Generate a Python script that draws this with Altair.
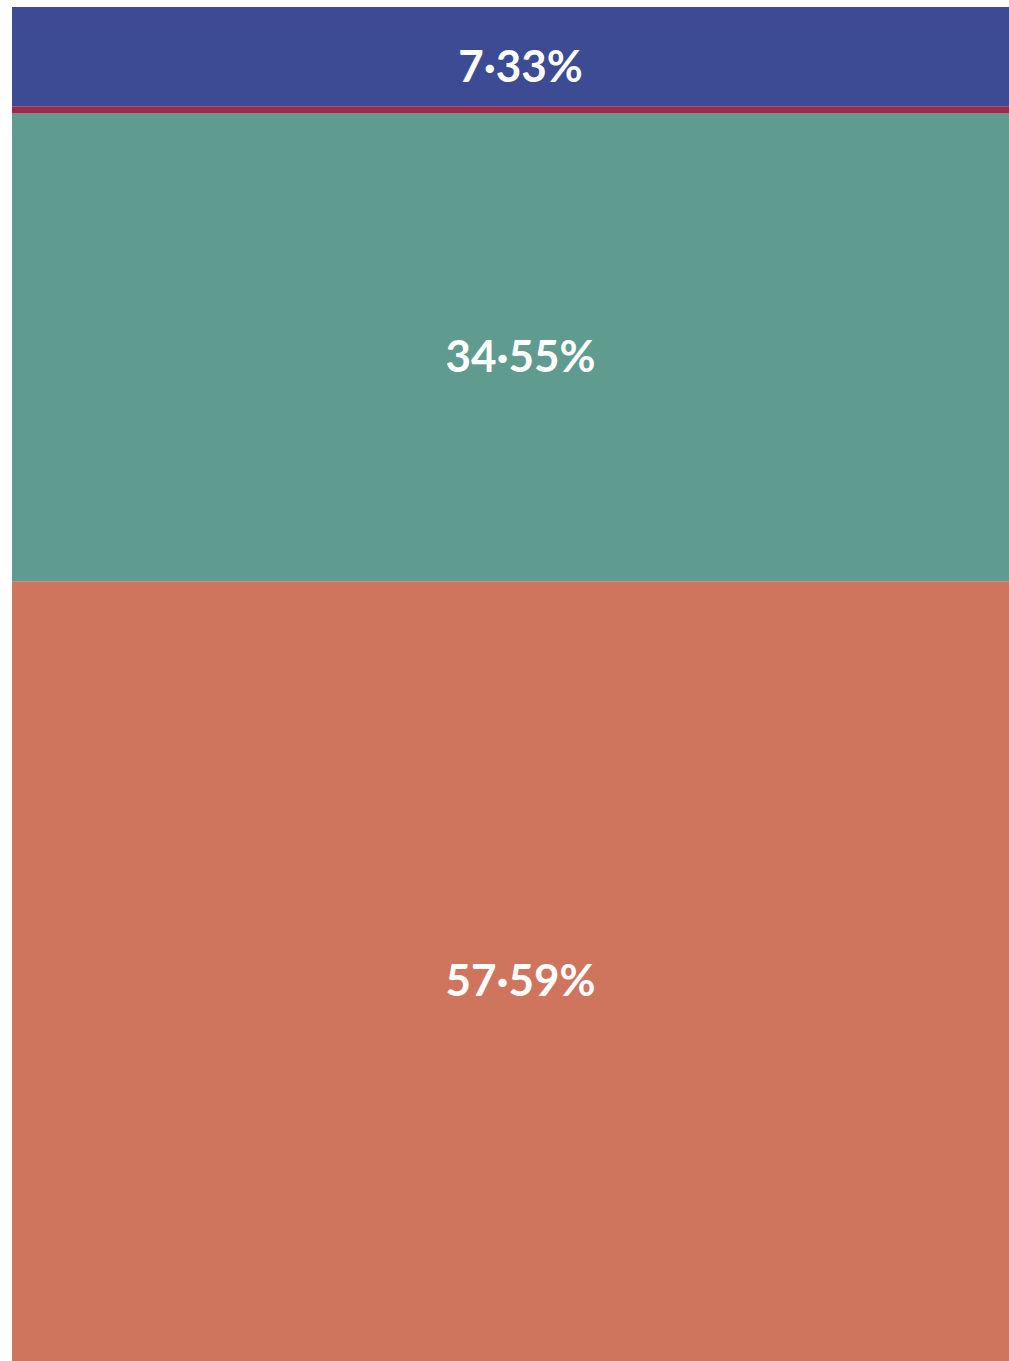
import altair as alt
import pandas as pd

# Share of each category, stacked bottom to top
categories = ["Orange group", "Teal group", "Red group", "Blue group"]
shares = [57.59, 34.55, 0.53, 7.33]
colors = ["#cf755e", "#5f9b8e", "#9c2b4b", "#3d4a94"]
show_label = [True, True, False, True]

df = pd.DataFrame({
    "group": ["all"] * len(categories),
    "category": categories,
    "share": shares,
    "stack_order": list(range(len(categories))),
    "show": show_label,
})

base = alt.Chart(df).transform_stack(
    stack="share",
    groupby=["group"],
    as_=["y0", "y1"],
    sort=[alt.SortField("stack_order", order="ascending")],
).transform_calculate(
    mid="(datum.y0 + datum.y1) / 2",
    label="replace(format(datum.share, '.2f'), '.', '·') + '%'",
)

x_enc = alt.X("group:N", axis=None,
              scale=alt.Scale(paddingInner=0, paddingOuter=0))
y_scale = alt.Scale(domain=[0, 100], nice=False, zero=True)

bars = base.mark_bar().encode(
    x=x_enc,
    y=alt.Y("y0:Q", axis=None, scale=y_scale),
    y2="y1:Q",
    color=alt.Color("category:N", legend=None,
                    scale=alt.Scale(domain=categories, range=colors)),
)

labels = base.transform_filter("datum.show").mark_text(
    font="Lato", fontWeight="bold", fontSize=44, color="white",
    align="center", baseline="middle", dx=10, dy=12,
).encode(
    x=x_enc,
    y=alt.Y("mid:Q", axis=None, scale=y_scale),
    text="label:N",
)

chart = (bars + labels).properties(
    width=997, height=1354,
    padding={"left": 12, "top": 7, "right": 0, "bottom": 0},
    autosize=alt.AutoSizeParams(type="none"),
    background="white",
).configure_view(stroke=None)

chart.save("out.html", embed_options={"renderer": "svg", "actions": False})
